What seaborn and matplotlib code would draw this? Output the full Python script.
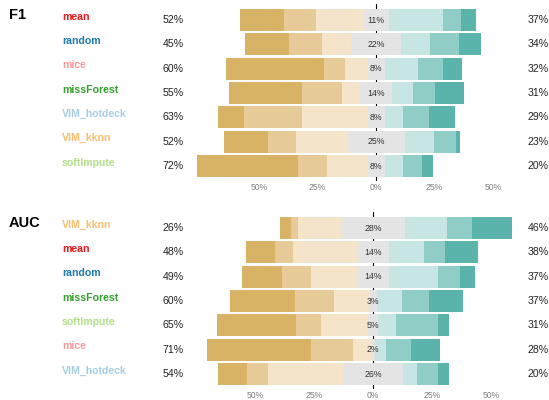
import numpy as np
import pandas as pd
import matplotlib
matplotlib.use('Agg')
import matplotlib.pyplot as plt
import matplotlib.transforms as mtransforms
import seaborn as sns

## ============================================================= ##

f1_methods = ['mean', 'random', 'mice', 'missForest', 'VIM_hotdeck', 'VIM_kknn', 'softImpute']
f1_neg1 = [19.0, 19.0, 42.1, 31.3, 11.1, 18.9, 43.3]
f1_neg2 = [13.7, 14.1, 8.9, 17.1, 24.9, 12.0, 12.4]
f1_neg3 = [20.1, 12.1, 9.6, 7.7, 27.9, 21.9, 17.1]
f1_neutral = [10.7, 21.7, 7.3, 13.7, 7.3, 24.4, 7.3]
f1_pos1 = [23.1, 12.4, 14.1, 9.0, 7.7, 12.4, 7.7]
f1_pos2 = [7.7, 12.0, 10.7, 9.4, 11.1, 9.4, 8.1]
f1_pos3 = [6.4, 9.4, 8.1, 12.4, 11.1, 1.7, 4.7]
f1_left_lab = [52, 45, 60, 55, 63, 52, 72]
f1_mid_lab = [11, 22, 8, 14, 8, 25, 8]
f1_right_lab = [37, 34, 32, 31, 29, 23, 20]

auc_methods = ['VIM_kknn', 'mean', 'random', 'missForest', 'softImpute', 'mice', 'VIM_hotdeck']
auc_neg1 = [4.7, 12.3, 16.9, 27.5, 33.4, 44.0, 12.3]
auc_neg2 = [3.0, 7.6, 12.3, 16.5, 10.6, 17.8, 8.9]
auc_neg3 = [18.2, 27.1, 19.5, 14.8, 19.9, 7.6, 31.7]
auc_neutral = [27.1, 13.5, 13.5, 3.0, 4.2, 1.3, 25.4]
auc_pos1 = [17.8, 14.8, 20.7, 10.6, 7.6, 4.7, 5.9]
auc_pos2 = [10.6, 8.9, 9.3, 11.8, 17.8, 10.6, 8.9]
auc_pos3 = [16.9, 14.0, 6.3, 14.0, 4.7, 12.3, 4.7]
auc_left_lab = [26, 48, 49, 60, 65, 71, 54]
auc_mid_lab = [28, 14, 14, 3, 5, 2, 26]
auc_right_lab = [46, 38, 37, 37, 31, 28, 20]

method2color = {
	'mean': '#E31A1C',
	'random': '#1F78B4',
	'mice': '#FB9A99',
	'missForest': '#33A02C',
	'VIM_hotdeck': '#A6CEE3',
	'VIM_kknn': '#FDBF6F',
	'softImpute': '#B2DF8A',
}

neg_colors = ['#D8B365', '#E6CA98', '#F3E4CA']
pos_colors = ['#C7E6E3', '#90CDC6', '#5AB4AC']
neutral_color = '#E4E4E4'

## ============================================================= ##

sns.set_style('white')
plt.rcParams['font.family'] = ['Liberation Sans', 'DejaVu Sans']

W, H = 549, 400
fig = plt.figure(figsize=(W / 100., H / 100.), dpi=100)


def draw_panel(ax, title, methods, neg, neutral, pos, left_lab, mid_lab, right_lab, xlim):
	df = pd.DataFrame({'method': methods, 'neutral': neutral})
	half = df['neutral'] / 2.
	n1, n2, n3 = [np.array(v) for v in neg]
	p1, p2, p3 = [np.array(v) for v in pos]

	ax.axvline(0, color='black', lw=0.8, zorder=0)

	# outermost segments first, inner ones drawn on top
	layers = [
		(-(half + n1 + n2 + n3), neg_colors[0]),
		(-(half + n2 + n3), neg_colors[1]),
		(-(half + n3), neg_colors[2]),
		(-half, neutral_color),
		(half + p1 + p2 + p3, pos_colors[2]),
		(half + p1 + p2, pos_colors[1]),
		(half + p1, pos_colors[0]),
		(half, neutral_color),
	]
	for vals, col in layers:
		sns.barplot(x=vals.values, y=df['method'], order=methods, orient='h',
					color=col, width=0.9, errorbar=None, linewidth=0,
					saturation=1, ax=ax, zorder=2)

	ax.set_xlim(*xlim)
	ax.set_ylim(6.6, -0.65)
	ax.set_ylabel('')
	ax.set_xlabel('')
	ax.set_yticks([])
	ax.set_xticks([-50, -25, 0, 25, 50])
	ax.set_xticklabels(['50%', '25%', '0%', '25%', '50%'], fontsize=6.2, color='#7F7F7F')
	ax.tick_params(axis='x', length=0, pad=2)
	sns.despine(ax=ax, left=True, bottom=True)

	trans = mtransforms.blended_transform_factory(fig.transFigure, ax.transData)
	for i, m in enumerate(methods):
		ax.text(62. / W, i - 0.14, m, transform=trans, ha='left', va='center',
				fontsize=7.6, fontweight='bold', color=method2color[m])
		ax.text(183.5 / W, i, '{0:d}%'.format(left_lab[i]), transform=trans,
				ha='right', va='center', fontsize=7.6, color='#222222')
		ax.text(548.5 / W, i, '{0:d}%'.format(right_lab[i]), transform=trans,
				ha='right', va='center', fontsize=7.6, color='#222222')
		ax.text(0, i, '{0:d}%'.format(mid_lab[i]), ha='center', va='center',
				fontsize=6.3, color='#333333', zorder=5)
	ax.text(9. / W, -0.2, title, transform=trans, ha='left', va='center',
			fontsize=10.5, fontweight='bold', color='black')


ax1 = fig.add_axes([190. / W, 219.4 / H, 330. / W, 176.4 / H])
draw_panel(ax1, 'F1', f1_methods,
		   [f1_neg1, f1_neg2, f1_neg3], f1_neutral, [f1_pos1, f1_pos2, f1_pos3],
		   f1_left_lab, f1_mid_lab, f1_right_lab, (-79.5, 61.5))

ax2 = fig.add_axes([190. / W, 11.4 / H, 330. / W, 176.4 / H])
draw_panel(ax2, 'AUC', auc_methods,
		   [auc_neg1, auc_neg2, auc_neg3], auc_neutral, [auc_pos1, auc_pos2, auc_pos3],
		   auc_left_lab, auc_mid_lab, auc_right_lab, (-77.4, 62.2))

fig.savefig('out.png', dpi=100)
